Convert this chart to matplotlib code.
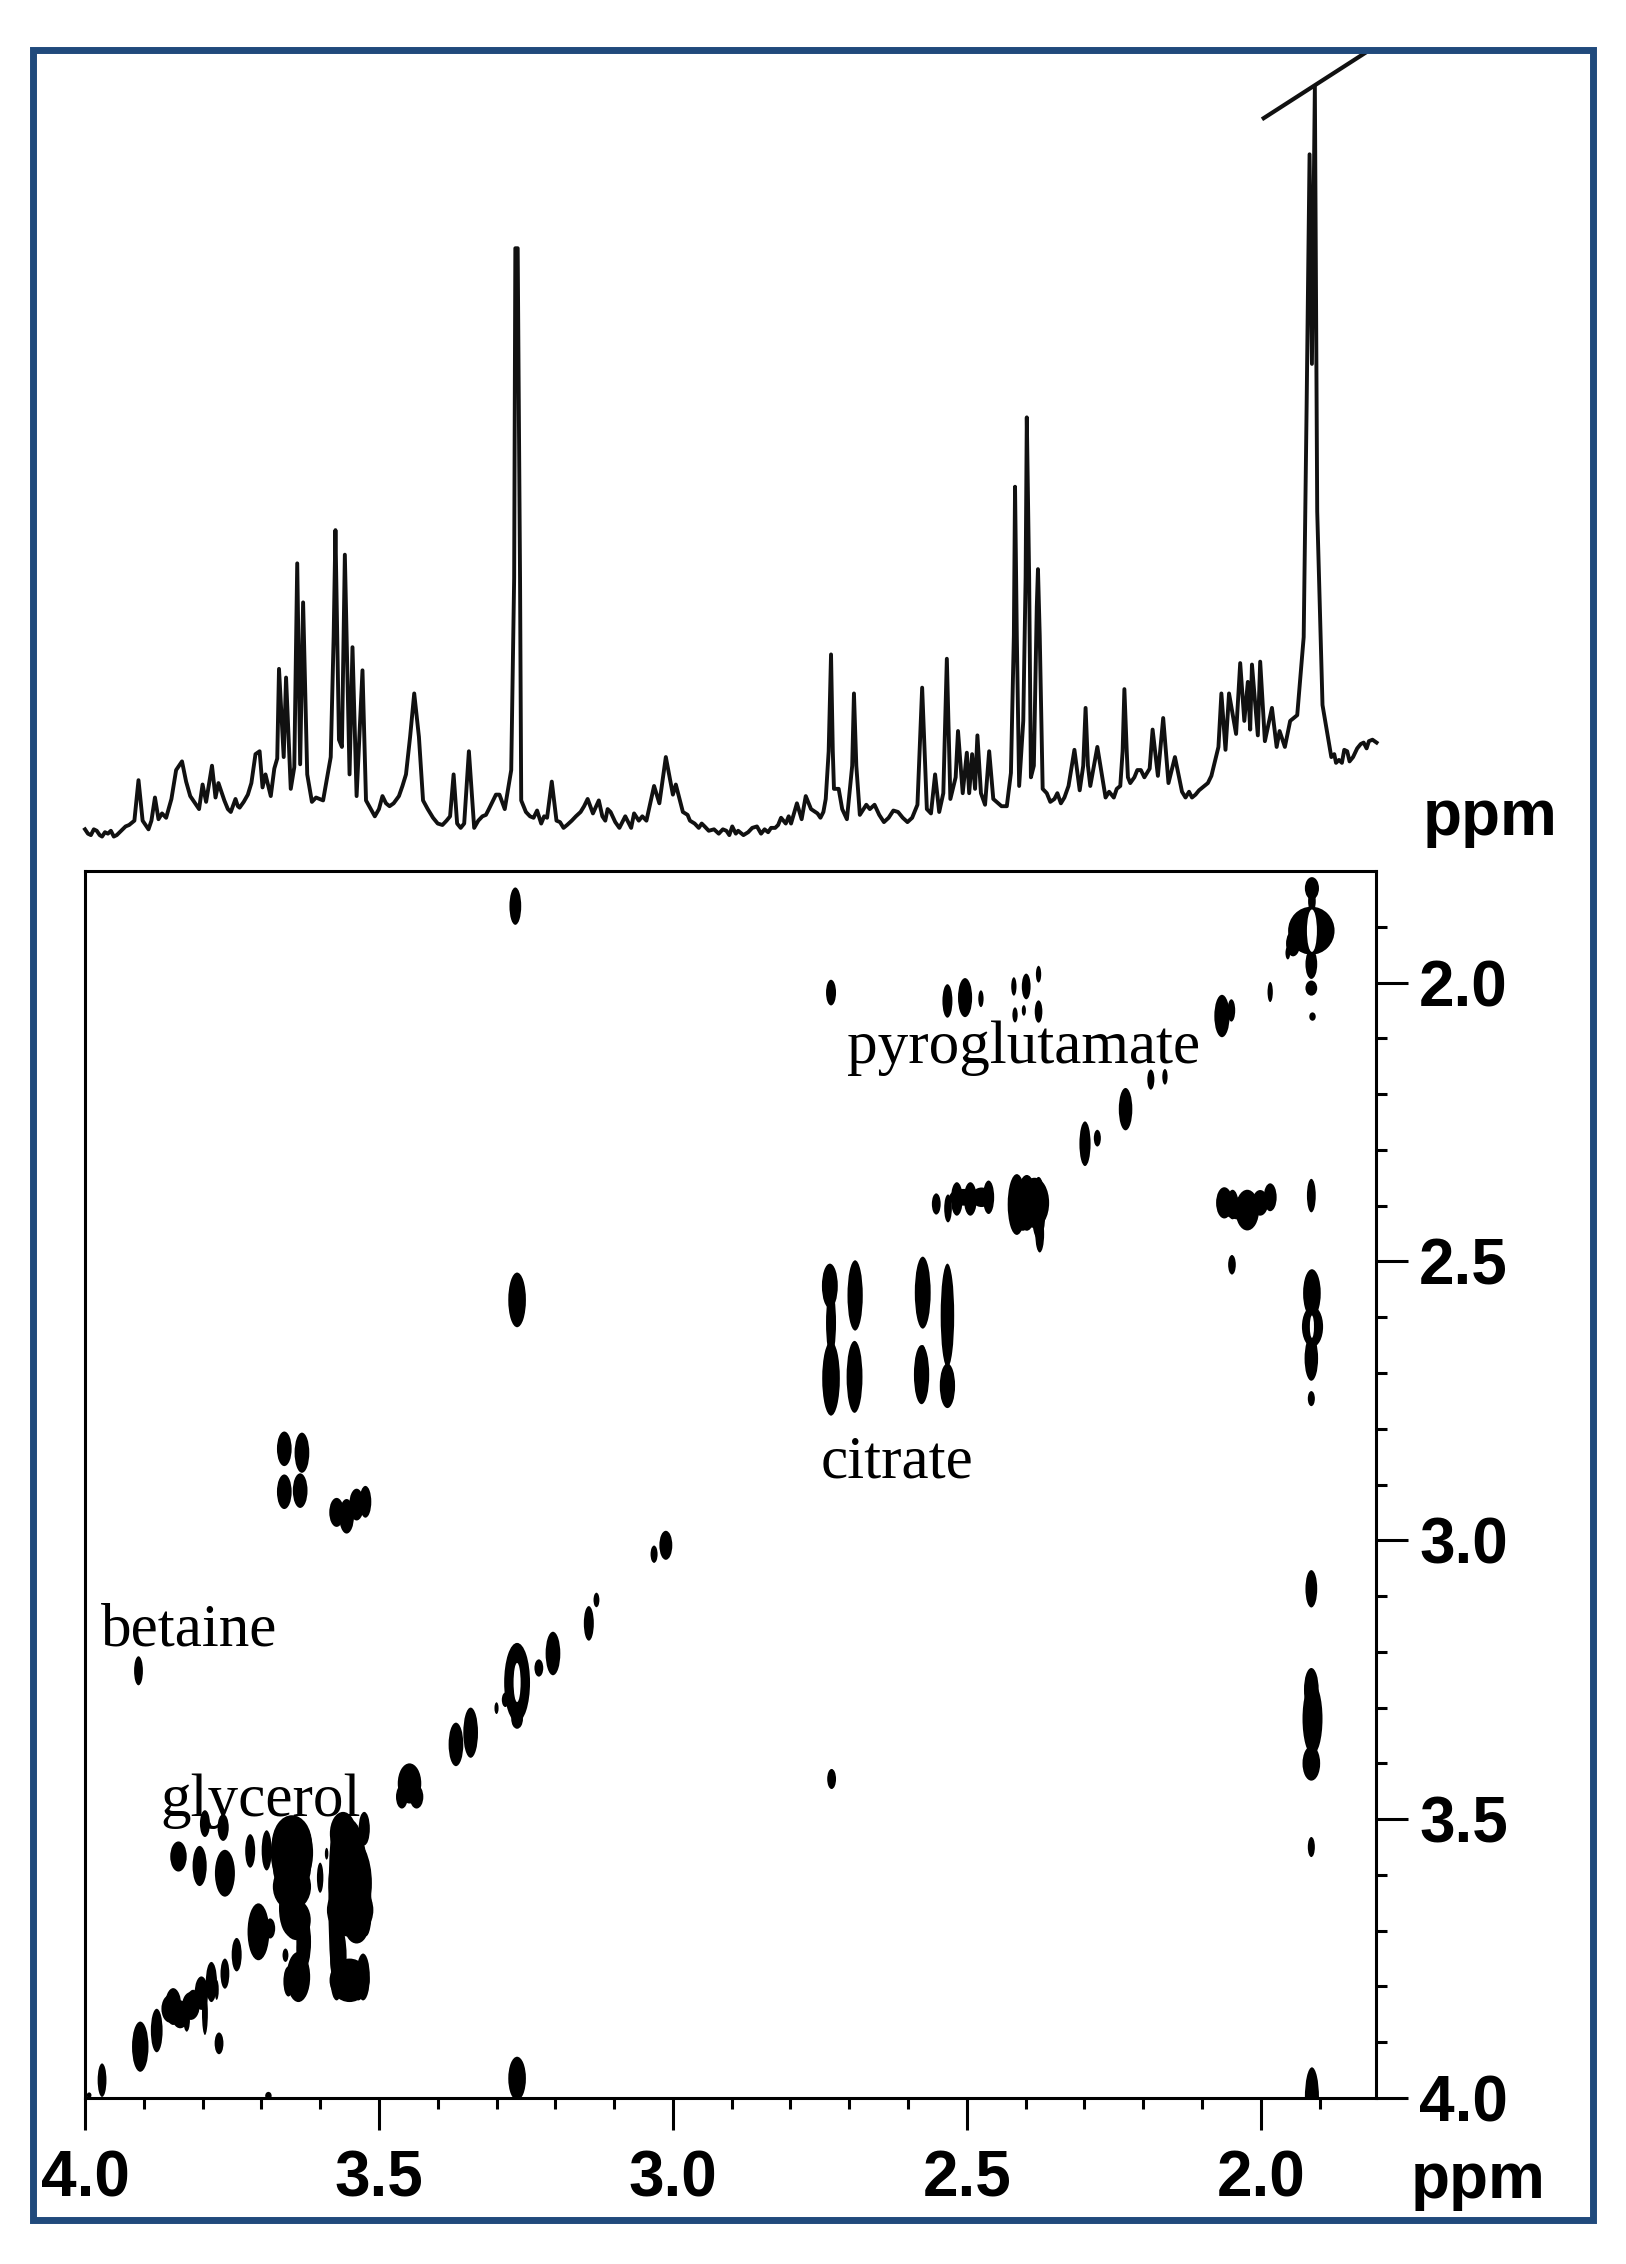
import matplotlib
matplotlib.use('Agg')
import matplotlib.pyplot as plt
from matplotlib.patches import Ellipse, Rectangle

W, H = 1626, 2264
FRAME = '#204a7c'

# 1D spectrum (ppm, height)
spec_ppm = [4.000, 3.990, 3.980, 3.971, 3.961, 3.951, 3.941, 3.931, 3.916, 3.909, 3.902, 3.892, 3.881, 3.875,
            3.862, 3.853, 3.845, 3.835, 3.828, 3.821, 3.806, 3.800, 3.794, 3.784, 3.778, 3.773, 3.763, 3.752,
            3.744, 3.737, 3.717, 3.710, 3.703, 3.698, 3.693, 3.684, 3.678, 3.673, 3.670, 3.662, 3.658, 3.650,
            3.644, 3.639, 3.634, 3.629, 3.622, 3.614, 3.607, 3.595, 3.582, 3.577, 3.574, 3.568, 3.563, 3.558,
            3.550, 3.545, 3.538, 3.528, 3.522, 3.507, 3.494, 3.482, 3.466, 3.454, 3.447, 3.440, 3.432, 3.425,
            3.408, 3.392, 3.379, 3.373, 3.367, 3.355, 3.347, 3.338, 3.324, 3.313, 3.301, 3.295, 3.286, 3.275,
            3.270, 3.268, 3.264, 3.260, 3.258, 3.243, 3.231, 3.224, 3.214, 3.206, 3.198, 3.186, 3.172, 3.157,
            3.145, 3.136, 3.126, 3.115, 3.106, 3.091, 3.081, 3.071, 3.066, 3.045, 3.032, 3.023, 3.012, 3.000,
            2.995, 2.983, 2.963, 2.946, 2.930, 2.909, 2.899, 2.889, 2.872, 2.857, 2.838, 2.826, 2.816, 2.808,
            2.803, 2.799, 2.789, 2.781, 2.774, 2.765, 2.749, 2.740, 2.735, 2.731, 2.728, 2.726, 2.718, 2.704,
            2.695, 2.692, 2.688, 2.682, 2.671, 2.657, 2.641, 2.625, 2.609, 2.593, 2.584, 2.576, 2.568, 2.561,
            2.554, 2.547, 2.540, 2.534, 2.528, 2.519, 2.515, 2.507, 2.500, 2.496, 2.491, 2.486, 2.482, 2.476,
            2.469, 2.462, 2.455, 2.441, 2.432, 2.425, 2.420, 2.418, 2.415, 2.411, 2.404, 2.400, 2.398, 2.394,
            2.391, 2.386, 2.381, 2.379, 2.376, 2.371, 2.364, 2.351, 2.340, 2.327, 2.317, 2.308, 2.302, 2.298,
            2.294, 2.290, 2.278, 2.264, 2.239, 2.235, 2.232, 2.228, 2.226, 2.215, 2.204, 2.189, 2.184, 2.175,
            2.166, 2.157, 2.146, 2.134, 2.111, 2.096, 2.084, 2.072, 2.067, 2.060, 2.054, 2.042, 2.035, 2.028,
            2.022, 2.018, 2.015, 2.005, 2.001, 1.993, 1.981, 1.973, 1.968, 1.959, 1.950, 1.938, 1.927, 1.922,
            1.917, 1.913, 1.908, 1.904, 1.895, 1.880, 1.867, 1.858, 1.849, 1.830, 1.816, 1.803]
spec_h = [6, 2, 5, 1, 3, 1, 4, 8, 12, 40, 12, 6, 28, 13,
          14, 27, 47, 53, 39, 29, 20, 37, 25, 50, 28, 38, 26, 18,
          27, 21, 38, 58, 60, 35, 44, 29, 48, 55, 117, 56, 111, 34,
          49, 190, 51, 163, 44, 25, 28, 26, 56, 140, 213, 68, 63, 196,
          44, 132, 29, 116, 26, 15, 29, 22, 29, 44, 70, 100, 70, 26,
          14, 9, 15, 44, 10, 10, 60, 7, 15, 20, 30, 30, 20, 47,
          180, 408, 408, 180, 26, 15, 19, 10, 14, 39, 12, 7, 12, 18,
          27, 17, 26, 12, 18, 7, 15, 7, 17, 12, 36, 24, 56, 30,
          37, 18, 10, 8, 6, 5, 8, 5, 4, 8, 4, 7, 14, 10,
          15, 10, 24, 13, 29, 20, 14, 27, 60, 127, 60, 34, 34, 13,
          50, 100, 50, 16, 23, 23, 11, 19, 14, 14, 23, 104, 20, 17,
          44, 18, 31, 124, 27, 42, 74, 31, 59, 31, 58, 34, 71, 31,
          23, 60, 27, 22, 22, 45, 140, 243, 140, 36, 81, 180, 291, 180,
          42, 50, 160, 186, 140, 34, 31, 27, 24, 36, 61, 33, 50, 90,
          50, 36, 63, 28, 36, 60, 103, 60, 42, 42, 47, 48, 75, 43,
          83, 38, 56, 32, 30, 36, 43, 63, 100, 61, 100, 72, 121, 81,
          108, 75, 120, 71, 122, 67, 90, 63, 74, 63, 81, 85, 139, 299,
          473, 328, 520, 226, 92, 56, 54, 61, 53, 65, 67, 66]

# baseline ripple between the peaks
ripple_ppm = [3.995, 3.985, 3.975, 3.966, 3.956, 3.946, 3.936, 3.925, 3.887, 3.869, 3.757, 3.740, 3.730, 3.723,
              3.500, 3.488, 3.475, 3.460, 3.417, 3.400, 3.385, 3.361, 3.331, 3.318, 3.250, 3.237, 3.219, 3.192,
              3.180, 3.165, 3.151, 3.120, 3.111, 3.098, 3.076, 3.058, 3.052, 2.975, 2.971, 2.956, 2.951, 2.939,
              2.922, 2.915, 2.904, 2.893, 2.880, 2.865, 2.850, 2.844, 2.833, 2.821, 2.754, 2.744, 2.712, 2.665,
              2.649, 2.633, 2.617, 2.601, 2.358, 2.346, 2.334, 2.258, 2.250, 2.245, 2.222, 2.210, 2.198, 2.128,
              2.122, 2.117, 2.105, 2.090, 1.875, 1.872, 1.862, 1.853, 1.843, 1.836, 1.825, 1.820, 1.810]
ripple_h = [3, 6, 2, 4, 5, 2, 6, 9, 12, 17, 20, 22, 25, 30,
            20, 24, 24, 36, 20, 10, 12, 7, 12, 16, 18, 14, 15, 11,
            9, 15, 22, 15, 20, 11, 11, 12, 15, 16, 12, 7, 10, 5,
            3, 6, 2, 3, 2, 7, 3, 6, 7, 9, 17, 18, 20, 20,
            16, 14, 18, 11, 25, 31, 28, 32, 28, 34, 38, 47, 42, 28,
            32, 28, 33, 38, 58, 52, 52, 60, 56, 62, 66, 62, 68]

# break mark across the truncated solvent peak
break_ppm = [1.995, 1.823]
break_h = [498, 543]

# 2D cross peaks: centre (F2, F1) and extent in ppm
peak_x = [1.913, 1.913, 1.914, 1.945, 1.954, 1.914, 1.914, 1.912, 2.731, 2.533, 2.503, 2.476, 2.420, 2.399,
          2.378, 2.418, 2.403, 2.378, 2.066, 2.050, 1.984, 2.187, 2.163, 2.230, 2.299, 2.278, 2.552, 2.532,
          2.517, 2.494, 2.463, 2.415, 2.398, 2.378, 2.376, 2.062, 2.048, 2.023, 2.001, 1.984, 1.914, 2.049,
          2.733, 2.731, 2.731, 2.690, 2.691, 2.575, 2.577, 2.575, 2.533, 2.533, 1.913, 1.912, 1.914, 1.914,
          3.971, 3.993, 3.688, 3.906, 3.878, 3.850, 3.827, 3.816, 3.802, 3.796, 3.785, 3.776, 3.762, 3.742,
          3.772, 3.705, 3.685, 3.659, 3.637, 3.654, 3.719, 3.691, 3.648, 3.648, 3.640, 3.632, 3.600, 3.589,
          3.561, 3.525, 3.549, 3.549, 3.538, 3.569, 3.550, 3.527, 3.841, 3.805, 3.762, 3.796, 3.765, 3.448,
          3.461, 3.436, 3.012, 3.032, 3.143, 3.130, 3.204, 3.228, 3.265, 3.265, 3.285, 3.300, 3.344, 3.369,
          3.268, 3.265, 2.730, 3.909, 3.661, 3.631, 3.661, 3.634, 3.572, 3.555, 3.538, 3.523, 1.914, 1.914,
          1.912, 1.914, 1.914, 1.913, 3.265,
          3.648, 3.664, 3.632, 3.650, 3.628, 3.575, 3.550, 3.522, 3.572, 3.552, 3.535, 3.855, 3.838, 3.820,
          2.505, 2.475, 2.385, 2.405, 2.035]
peak_y = [1.831, 1.854, 1.907, 1.930, 1.947, 1.967, 2.010, 2.061, 2.018, 2.033, 2.027, 2.029, 2.007, 2.007,
          1.985, 2.058, 2.050, 2.052, 2.060, 2.050, 2.017, 2.174, 2.169, 2.227, 2.289, 2.279, 2.397, 2.405,
          2.388, 2.388, 2.385, 2.398, 2.395, 2.405, 2.451, 2.395, 2.398, 2.408, 2.395, 2.385, 2.382, 2.506,
          2.544, 2.610, 2.710, 2.561, 2.707, 2.556, 2.703, 2.673, 2.597, 2.723, 2.557, 2.617, 2.674, 2.746,
          3.968, 3.995, 3.996, 3.908, 3.879, 3.836, 3.860, 3.830, 3.812, 3.848, 3.792, 3.806, 3.777, 3.743,
          3.902, 3.702, 3.696, 3.744, 3.783, 3.791, 3.557, 3.556, 3.544, 3.621, 3.681, 3.741, 3.605, 3.562,
          3.526, 3.517, 3.615, 3.663, 3.693, 3.747, 3.789, 3.783, 3.567, 3.584, 3.597, 3.508, 3.515, 3.436,
          3.460, 3.460, 3.009, 3.025, 3.149, 3.107, 3.203, 3.229, 3.255, 3.320, 3.286, 3.301, 3.345, 3.366,
          1.863, 2.569, 3.428, 3.234, 2.836, 2.843, 2.913, 2.911, 2.950, 2.957, 2.936, 2.931, 3.087, 3.268,
          3.320, 3.400, 3.550, 4.000, 3.965,
          3.580, 3.560, 3.560, 3.660, 3.720, 3.650, 3.600, 3.660, 3.790, 3.800, 3.800, 3.840, 3.850, 3.835,
          2.385, 2.385, 2.395, 2.400, 2.405]
peak_w = [.024, .013, .079, .024, .008, .020, .020, .011, .017, .017, .024, .009, .009, .015,
          .009, .009, .007, .013, .026, .013, .009, .012, .009, .023, .019, .012, .015, .013,
          .020, .022, .019, .031, .034, .024, .015, .028, .020, .040, .027, .022, .015, .013,
          .027, .017, .030, .026, .027, .027, .026, .011, .023, .026, .030, .036, .023, .012,
          .015, .008, .011, .028, .020, .028, .011, .023, .023, .010, .019, .007, .015, .017,
          .015, .037, .017, .010, .040, .017, .017, .017, .068, .065, .048, .017, .011, .006,
          .045, .019, .074, .079, .040, .028, .068, .023, .028, .024, .034, .017, .019, .040,
          .020, .023, .022, .012, .017, .010, .025, .015, .044, .020, .012, .007, .025, .025,
          .020, .030, .015, .015, .025, .025, .025, .025, .025, .025, .025, .020, .020, .025,
          .034, .030, .012, .024, .030,
          .066, .040, .040, .040, .025, .022, .060, .020, .020, .020, .020, .030, .030, .030,
          .050, .035, .050, .040, .060]
peak_h = [.040, .040, .086, .046, .023, .053, .027, .015, .046, .060, .070, .030, .033, .046,
          .030, .027, .019, .040, .076, .040, .036, .036, .028, .076, .080, .030, .038, .050,
          .060, .060, .060, .109, .100, .113, .066, .056, .053, .073, .046, .050, .060, .035,
          .080, .119, .133, .126, .129, .129, .106, .046, .186, .080, .086, .073, .080, .027,
          .060, .010, .014, .090, .078, .066, .042, .048, .060, .078, .072, .036, .054, .060,
          .039, .102, .036, .024, .090, .054, .060, .072, .102, .084, .072, .072, .054, .021,
          .078, .060, .167, .096, .060, .119, .078, .084, .054, .072, .084, .048, .048, .072,
          .042, .042, .052, .031, .062, .026, .078, .031, .142, .036, .026, .021, .090, .078,
          .067, .098, .036, .052, .062, .072, .062, .062, .052, .062, .057, .057, .067, .078,
          .129, .062, .036, .110, .078,
          .120, .100, .100, .100, .100, .300, .200, .100, .070, .050, .050, .050, .050, .050,
          .030, .035, .090, .090, .040]

# open centres of the ring shaped diagonal peaks
hole_x = [1.913, 1.913, 3.265]
hole_y = [1.907, 2.617, 3.255]
hole_w = [.017, .007, .012]
hole_h = [.076, .040, .070]

x_major = [4.0, 3.5, 3.0, 2.5, 2.0]
x_minor = [3.9, 3.8, 3.7, 3.6, 3.4, 3.3, 3.2, 3.1, 2.9, 2.8, 2.7, 2.6, 2.4, 2.3, 2.2, 2.1, 1.9]
y_major = [2.0, 2.5, 3.0, 3.5, 4.0]
y_minor = [1.9, 2.1, 2.2, 2.3, 2.4, 2.6, 2.7, 2.8, 2.9, 3.1, 3.2, 3.3, 3.4, 3.6, 3.7, 3.8, 3.9]

metabolites = ['pyroglutamate', 'citrate', 'betaine', 'glycerol']
metab_x = [2.703, 2.749, 3.973, 3.872]
metab_y = [2.145, 2.888, 3.188, 3.494]


def box(left, top, right, bottom):
    return [left / W, 1 - bottom / H, (right - left) / W, (bottom - top) / H]


fig = plt.figure(figsize=(W / 100, H / 100), dpi=100, facecolor='white')

# merge peaks and ripple into one trace, left to right
trace = sorted(zip(spec_ppm + ripple_ppm, spec_h + ripple_h), reverse=True)

ax1 = fig.add_axes(box(85, 43, 1376, 838))
ax1.plot([p[0] for p in trace], [p[1] for p in trace], color='#111111', lw=2.8, solid_joinstyle='round', clip_on=False)
ax1.plot(break_ppm, break_h, color='#111111', lw=3, clip_on=False)
ax1.set_xlim(4.0, 1.804)
ax1.set_ylim(0, 550)
ax1.axis('off')

ax2 = fig.add_axes(box(85, 871, 1376, 2098))
for t, x, y in zip(metabolites, metab_x, metab_y):
    ax2.text(x, y, t, family='Liberation Serif', fontsize=44, color='black', ha='left', va='baseline', zorder=1)
for x, y, w, h in zip(peak_x, peak_y, peak_w, peak_h):
    ax2.add_patch(Ellipse((x, y), w, h, color='black', lw=0, zorder=2))
for x, y, w, h in zip(hole_x, hole_y, hole_w, hole_h):
    ax2.add_patch(Ellipse((x, y), w, h, color='white', lw=0, zorder=3))
ax2.set_xlim(4.0, 1.804)
ax2.set_ylim(4.0, 1.80)
ax2.yaxis.tick_right()
ax2.set_xticks(x_major)
ax2.set_xticks(x_minor, minor=True)
ax2.set_yticks(y_major)
ax2.set_yticks(y_minor, minor=True)
ax2.set_xticklabels(['%.1f' % v for v in x_major], family='Liberation Sans', fontweight='bold', fontsize=46)
ax2.set_yticklabels(['%.1f' % v for v in y_major], family='Liberation Sans', fontweight='bold', fontsize=46)
ax2.tick_params(axis='x', which='major', length=23, width=2.2, pad=14)
ax2.tick_params(axis='y', which='major', length=23, width=2.2, pad=8)
ax2.tick_params(axis='both', which='minor', length=8, width=2.2)
for s in ax2.spines.values():
    s.set_linewidth(2.2)

fig.text(1423 / W, 1 - 835 / H, 'ppm', family='Liberation Sans', fontweight='bold', fontsize=46, va='baseline')
fig.text(1411 / W, 1 - 2198 / H, 'ppm', family='Liberation Sans', fontweight='bold', fontsize=46, va='baseline')

fig.add_artist(Rectangle((33 / W, 1 - 2219.5 / H), 1559.5 / W, 2170 / H, transform=fig.transFigure,
                         fill=False, edgecolor=FRAME, lw=5, joinstyle='miter'))

plt.savefig('out.png', dpi=100)
